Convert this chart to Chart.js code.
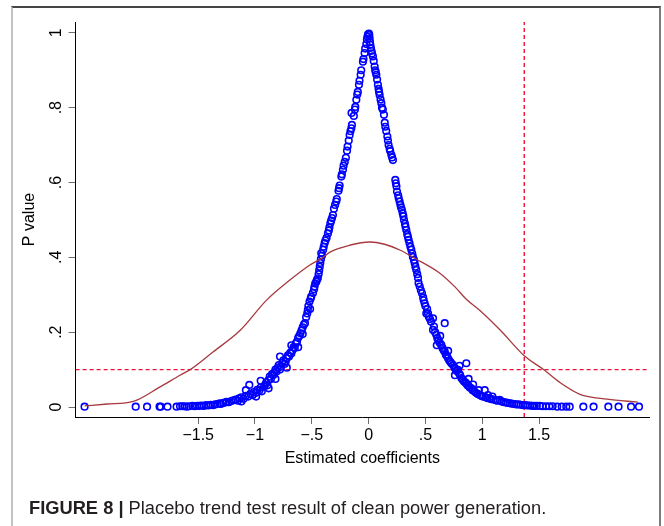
<!DOCTYPE html>
<html>
<head>
<meta charset="utf-8">
<script src="https://cdn.jsdelivr.net/npm/chart.js@4"></script>
<style>
html,body{margin:0;padding:0;background:#fff;}
#wrap{position:relative;width:664px;height:526px;overflow:hidden;background:#fff;}
#frame{position:absolute;left:11px;top:6px;width:646px;height:560px;border-top:2px solid #454545;border-left:2px solid #c2c2c2;border-right:2px solid #7c7c7c;}
#c{position:absolute;left:0;top:0;}
#caption{position:absolute;left:29px;top:497px;font-family:"Liberation Sans",Arial,sans-serif;font-size:18.3px;color:#231f20;white-space:nowrap;}
#caption b{font-weight:bold;}
</style>
</head>
<body>
<div id="wrap">
<div id="frame"></div>
<canvas id="c" width="664" height="526"></canvas>
<div id="caption"><b>FIGURE 8 |</b> Placebo trend test result of clean power generation.</div>
</div>
<script>
// ---- data ----
const coefficients = [
 -2.50,-2.05,-1.95,-1.84,-1.83,-1.77,-1.69,-1.66,-1.64,-1.62,
 -1.60,-1.58,-1.55,-1.53,-1.51,-1.49,-1.47,-1.45,-1.43,-1.41,
 -1.39,-1.37,-1.35,-1.33,-1.31,-1.30,-1.28,-1.26,-1.25,-1.23,
 -1.21,-1.19,-1.17,-1.15,-1.14,-1.12,-1.10,-1.08,-1.08,-1.05,
 -1.06,-1.04,-1.02,-1.01,-0.99,-0.98,-0.96,-0.95,-0.94,-0.92,
 -0.91,-0.90,-0.89,-0.88,-0.87,-0.86,-0.85,-0.84,-0.83,-0.82,
 -0.81,-0.80,-0.79,-0.78,-0.77,-0.76,-0.75,-0.74,-0.73,-0.72,
 -0.71,-0.70,-0.69,-0.68,-0.67,-0.66,-0.65,-0.64,-0.63,-0.62,
 -0.61,-0.60,-0.59,-0.58,-0.57,-0.56,-0.55,-0.54,-0.535,-0.53,
 -0.52,-0.515,-0.51,-0.505,-0.49,-0.48,-0.476,-0.47,-0.46,-0.455,
 -0.447,-0.44,-0.435,-0.43,-0.425,-0.42,-0.417,-0.41,-0.40,-0.395,
 -0.387,-0.38,-0.37,-0.358,-0.35,-0.345,-0.337,-0.33,-0.322,-0.314,
 -0.305,-0.295,-0.285,-0.28,-0.265,-0.26,-0.255,-0.24,-0.235,-0.226,
 -0.22,-0.21,-0.20,-0.19,-0.185,-0.175,-0.167,-0.16,-0.152,-0.147,
 -0.15,-0.13,-0.12,-0.117,-0.108,-0.10,-0.095,-0.085,-0.08,-0.07,
 -0.065,-0.05,-0.045,-0.035,-0.03,-0.02,-0.015,-0.01,-0.005,
 0.003,0.006,0.009,0.012,0.015,0.02,0.025,0.03,0.038,0.045,
 0.053,0.058,0.063,0.068,0.075,0.082,0.088,0.092,0.097,0.105,
 0.112,0.118,0.125,0.135,0.142,0.147,0.155,0.165,0.17,0.176,
 0.185,0.19,0.2,0.207,0.214,0.235,0.24,0.245,0.25,0.26,
 0.265,0.273,0.28,0.286,0.293,0.30,0.306,0.311,0.32,0.325,
 0.332,0.34,0.346,0.352,0.36,0.368,0.376,0.384,0.39,0.399,
 0.405,0.412,0.42,0.428,0.435,0.44,0.45,0.46,0.47,0.48,
 0.485,0.493,0.50,0.508,0.515,0.523,0.53,0.54,0.55,0.567,
 0.567,0.575,0.585,0.596,0.605,0.615,0.625,0.64,0.65,0.66,
 0.67,0.67,0.68,0.69,0.699,0.71,0.72,0.73,0.743,0.755,
 0.765,0.775,0.787,0.795,0.805,0.817,0.83,0.84,0.85,0.86,
 0.86,0.87,0.88,0.89,0.905,0.915,0.93,0.945,0.96,0.978,
 0.99,1.005,1.022,1.03,1.045,1.066,1.08,1.10,1.12,1.135,
 1.154,1.17,1.19,1.21,1.225,1.242,1.26,1.28,1.30,1.32,
 1.34,1.36,1.38,1.40,1.42,1.44,1.46,1.48,1.507,1.53,
 1.56,1.59,1.62,1.66,1.70,1.74,1.77,1.89,1.98,2.11,
 2.20,2.31,2.38,
 -0.95,-0.88,-0.82,-0.78,-0.72,-0.68,-0.62,-0.58,-0.99,-1.12,
 0.60,0.63,0.70,0.76,0.80,0.88,0.92,0.97,1.05,1.09
];
const pValues = [
 0.001,0.001,0.001,0.001,0.001,0.001,0.001,0.002,0.002,0.002,
 0.001,0.002,0.003,0.002,0.003,0.003,0.004,0.003,0.005,0.004,
 0.006,0.005,0.007,0.008,0.010,0.008,0.011,0.012,0.014,0.013,
 0.016,0.018,0.020,0.017,0.023,0.026,0.022,0.030,0.045,0.059,
 0.028,0.035,0.032,0.040,0.038,0.046,0.045,0.052,0.042,0.055,
 0.060,0.066,0.058,0.072,0.081,0.075,0.088,0.085,0.092,0.100,
 0.095,0.105,0.112,0.100,0.108,0.118,0.125,0.115,0.121,0.130,
 0.138,0.135,0.145,0.143,0.152,0.160,0.158,0.170,0.175,0.185,
 0.190,0.197,0.205,0.213,0.220,0.224,0.240,0.250,0.259,0.270,
 0.282,0.262,0.290,0.295,0.305,0.315,0.322,0.330,0.335,0.340,
 0.344,0.355,0.365,0.375,0.385,0.395,0.411,0.405,0.420,0.428,
 0.438,0.445,0.452,0.464,0.472,0.480,0.491,0.498,0.505,0.513,
 0.530,0.540,0.549,0.556,0.578,0.585,0.592,0.616,0.622,0.634,
 0.645,0.655,0.666,0.685,0.696,0.712,0.727,0.737,0.745,0.754,
 0.786,0.778,0.795,0.802,0.821,0.835,0.842,0.861,0.872,0.888,
 0.900,0.923,0.930,0.946,0.958,0.970,0.982,0.990,0.996,
 0.998,0.994,0.985,0.975,0.968,0.960,0.952,0.945,0.937,0.925,
 0.910,0.900,0.895,0.888,0.875,0.861,0.850,0.842,0.834,0.822,
 0.812,0.800,0.795,0.781,0.760,0.749,0.738,0.723,0.712,0.700,
 0.690,0.684,0.674,0.667,0.660,0.607,0.598,0.590,0.576,0.566,
 0.558,0.549,0.540,0.533,0.527,0.518,0.510,0.500,0.490,0.482,
 0.473,0.462,0.455,0.447,0.438,0.428,0.420,0.410,0.401,0.393,
 0.385,0.375,0.366,0.355,0.345,0.331,0.322,0.312,0.304,0.293,
 0.285,0.277,0.270,0.250,0.262,0.250,0.241,0.235,0.228,0.237,
 0.206,0.215,0.200,0.193,0.184,0.178,0.172,0.166,0.158,0.152,
 0.148,0.224,0.140,0.136,0.130,0.124,0.120,0.116,0.112,0.105,
 0.102,0.096,0.099,0.090,0.086,0.077,0.072,0.068,0.066,0.063,
 0.117,0.058,0.056,0.052,0.050,0.045,0.042,0.038,0.035,0.032,
 0.030,0.028,0.045,0.026,0.024,0.023,0.021,0.020,0.018,0.017,
 0.019,0.015,0.013,0.012,0.011,0.010,0.009,0.008,0.007,0.007,
 0.006,0.005,0.005,0.004,0.004,0.003,0.003,0.003,0.003,0.002,
 0.002,0.002,0.002,0.001,0.001,0.001,0.001,0.001,0.001,0.001,
 0.001,0.001,0.001,
 0.070,0.050,0.075,0.135,0.105,0.165,0.160,0.195,0.028,0.015,
 0.165,0.190,0.150,0.085,0.110,0.075,0.060,0.045,0.032,0.028
];
const densityX = [-2.50,-2.30,-2.07,-1.84,-1.66,-1.57,-1.37,-1.13,-0.90,-0.69,-0.52,-0.40,-0.34,-0.16,0.01,0.14,0.28,0.41,0.63,0.76,0.86,0.98,1.16,1.37,1.54,1.69,1.86,2.10,2.37];
const densityY = [0.003,0.008,0.015,0.053,0.085,0.100,0.147,0.205,0.285,0.340,0.379,0.400,0.414,0.433,0.441,0.435,0.419,0.397,0.357,0.321,0.288,0.258,0.205,0.137,0.100,0.064,0.034,0.021,0.013];
const xTicks = [-1.5,-1,-0.5,0,0.5,1,1.5];
const xTickLabels = ['\u22121.5','\u22121','\u2212.5','0','.5','1','1.5'];
const yTicks = [0,0.2,0.4,0.6,0.8,1];
const yTickLabels = ['0','.2','.4','.6','.8','1'];
const xRange = [-2.579,2.468];
const yRange = [-0.0267,1.029];
const trueEstimate = 1.37;
const pThreshold = 0.1;

// ---- chart ----
const FONT = '"Liberation Sans", Arial, sans-serif';
Chart.defaults.font.family = FONT;
const points = coefficients.slice(0, Math.min(coefficients.length, pValues.length)).map((x,i)=>({x:x,y:pValues[i]}));
const density = densityX.map((x,i)=>({x:x,y:densityY[i]}));

new Chart(document.getElementById('c'), {
  type: 'scatter',
  data: {
    datasets: [
      {data: density, showLine:true, borderColor:'#a63a3f', borderWidth:1.3, pointRadius:0, fill:false, cubicInterpolationMode:'monotone', order:1},
      {data: points, pointRadius:3.3, pointBorderWidth:1.6, borderColor:'#0000ff', backgroundColor:'rgba(0,0,0,0)', pointHoverRadius:3.3, order:2},
      {data: [{x:xRange[0],y:pThreshold},{x:xRange[1],y:pThreshold}], showLine:true, borderColor:'#ee1038', borderWidth:1.4, borderDash:[4,3], pointRadius:0, order:3},
      {data: [{x:trueEstimate,y:yRange[0]},{x:trueEstimate,y:yRange[1]}], showLine:true, borderColor:'#ee1038', borderWidth:1.4, borderDash:[4,3], pointRadius:0, order:3}
    ]
  },
  options: {
    responsive:false, animation:false, devicePixelRatio:1,
    layout:{padding:{left:0,top:22,right:15,bottom:46}},
    plugins:{legend:{display:false}, tooltip:{enabled:false}},
    scales:{
      x:{
        type:'linear', min:xRange[0], max:xRange[1],
        afterBuildTicks:s=>{s.ticks = xTicks.map(v=>({value:v}));},
        afterFit:s=>{s.height=63;},
        ticks:{callback:(v,i)=>xTickLabels[i], color:'#000', font:{size:16}, padding:2, autoSkip:false, maxRotation:0, minRotation:0},
        grid:{display:true, drawOnChartArea:false, drawTicks:true, tickLength:7, tickColor:'#6e6e6e', tickWidth:1},
        border:{display:true, color:'#000', width:1},
        title:{display:true, text:'Estimated coefficients', color:'#000', font:{size:16}, padding:{top:0,bottom:12}}
      },
      y:{
        type:'linear', min:yRange[0], max:yRange[1],
        afterBuildTicks:s=>{s.ticks = yTicks.map(v=>({value:v}));},
        afterFit:s=>{s.width=75.6;},
        ticks:{callback:(v,i)=>yTickLabels[i], color:'#000', font:{size:16}, padding:5, minRotation:90, maxRotation:90, crossAlign:'center', autoSkip:false},
        grid:{display:true, drawOnChartArea:false, drawTicks:true, tickLength:7, tickColor:'#6e6e6e', tickWidth:1},
        border:{display:true, color:'#000', width:1},
        title:{display:true, text:'P value', color:'#000', font:{size:16}, padding:{top:20.4,bottom:0}}
      }
    }
  }
});
</script>
</body>
</html>
